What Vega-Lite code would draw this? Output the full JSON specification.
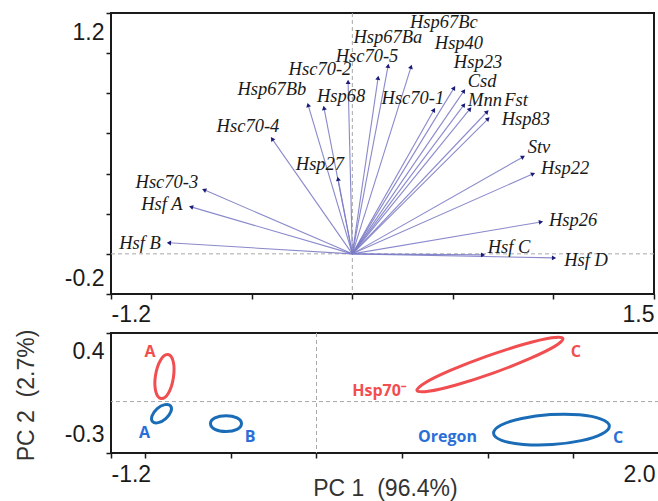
{
  "$schema": "https://vega.github.io/schema/vega-lite/v6.json",
  "background": "white",
  "padding": {"left": 14, "top": 11, "right": 0, "bottom": 0},
  "bounds": "flush",
  "spacing": 39,
  "config": {
    "view": {"stroke": "#1a1a1a", "strokeWidth": 2},
    "axis": {
      "grid": false, "domain": false,
      "tickColor": "#1a1a1a", "tickWidth": 1.5, "tickSize": 5,
      "labelFont": "Liberation Sans", "labelFontSize": 23, "labelColor": "#1a1a1a",
      "titleFont": "Liberation Sans", "titleFontSize": 23, "titleFontWeight": "normal", "titleColor": "#333333"
    }
  },
  "datasets": {
    "vectors": [
      {"name": "Hsp67Bc", "x": 0.292, "y": 0.932, "lx": 0.455, "ly": 1.153},
      {"name": "Hsp67Ba", "x": 0.178, "y": 0.937, "lx": 0.177, "ly": 1.081},
      {"name": "Hsc70-5", "x": 0.128, "y": 0.877, "lx": 0.073, "ly": 0.988},
      {"name": "Hsc70-2", "x": -0.021, "y": 0.857, "lx": -0.161, "ly": 0.922},
      {"name": "Hsp67Bb", "x": -0.220, "y": 0.742, "lx": -0.400, "ly": 0.822},
      {"name": "Hsp68", "x": -0.141, "y": 0.727, "lx": -0.056, "ly": 0.787},
      {"name": "Hsc70-4", "x": -0.399, "y": 0.573, "lx": -0.519, "ly": 0.638},
      {"name": "Hsp27", "x": -0.071, "y": 0.374, "lx": -0.161, "ly": 0.448},
      {"name": "Hsc70-3", "x": -0.737, "y": 0.319, "lx": -0.922, "ly": 0.356},
      {"name": "Hsf A", "x": -0.802, "y": 0.234, "lx": -0.947, "ly": 0.247},
      {"name": "Hsf B", "x": -0.912, "y": 0.055, "lx": -1.056, "ly": 0.055},
      {"name": "Hsc70-1", "x": 0.406, "y": 0.717, "lx": 0.301, "ly": 0.777},
      {"name": "Hsp40", "x": 0.506, "y": 0.827, "lx": 0.530, "ly": 1.050},
      {"name": "Hsp23", "x": 0.555, "y": 0.812, "lx": 0.625, "ly": 0.955},
      {"name": "Csd", "x": 0.555, "y": 0.742, "lx": 0.645, "ly": 0.862},
      {"name": "Mnn", "x": 0.585, "y": 0.722, "lx": 0.660, "ly": 0.769},
      {"name": "Fst", "x": 0.670, "y": 0.708, "lx": 0.814, "ly": 0.769},
      {"name": "Hsp83", "x": 0.675, "y": 0.673, "lx": 0.863, "ly": 0.673},
      {"name": "Stv", "x": 0.849, "y": 0.483, "lx": 0.928, "ly": 0.533},
      {"name": "Hsp22", "x": 0.899, "y": 0.399, "lx": 1.058, "ly": 0.429},
      {"name": "Hsp26", "x": 0.938, "y": 0.159, "lx": 1.098, "ly": 0.169},
      {"name": "Hsf C", "x": 0.650, "y": -0.005, "lx": 0.779, "ly": 0.035},
      {"name": "Hsf D", "x": 1.003, "y": -0.020, "lx": 1.162, "ly": -0.030}
    ],
    "ellipses": [
      {"e": "Hsp70- A", "line": "Hsp70-", "i": 0, "x": -0.867, "y": 0.274},
      {"e": "Hsp70- A", "line": "Hsp70-", "i": 1, "x": -0.836, "y": 0.231},
      {"e": "Hsp70- A", "line": "Hsp70-", "i": 2, "x": -0.836, "y": 0.138},
      {"e": "Hsp70- A", "line": "Hsp70-", "i": 3, "x": -0.865, "y": 0.049},
      {"e": "Hsp70- A", "line": "Hsp70-", "i": 4, "x": -0.908, "y": 0.018},
      {"e": "Hsp70- A", "line": "Hsp70-", "i": 5, "x": -0.939, "y": 0.061},
      {"e": "Hsp70- A", "line": "Hsp70-", "i": 6, "x": -0.940, "y": 0.154},
      {"e": "Hsp70- A", "line": "Hsp70-", "i": 7, "x": -0.910, "y": 0.243},
      {"e": "Oregon A", "line": "Oregon", "i": 0, "x": -0.853, "y": -0.024},
      {"e": "Oregon A", "line": "Oregon", "i": 1, "x": -0.850, "y": -0.058},
      {"e": "Oregon A", "line": "Oregon", "i": 2, "x": -0.880, "y": -0.099},
      {"e": "Oregon A", "line": "Oregon", "i": 3, "x": -0.924, "y": -0.123},
      {"e": "Oregon A", "line": "Oregon", "i": 4, "x": -0.958, "y": -0.116},
      {"e": "Oregon A", "line": "Oregon", "i": 5, "x": -0.960, "y": -0.083},
      {"e": "Oregon A", "line": "Oregon", "i": 6, "x": -0.930, "y": -0.041},
      {"e": "Oregon A", "line": "Oregon", "i": 7, "x": -0.886, "y": -0.018},
      {"e": "Oregon B", "line": "Oregon", "i": 0, "x": -0.438, "y": -0.128},
      {"e": "Oregon B", "line": "Oregon", "i": 1, "x": -0.464, "y": -0.095},
      {"e": "Oregon B", "line": "Oregon", "i": 2, "x": -0.528, "y": -0.082},
      {"e": "Oregon B", "line": "Oregon", "i": 3, "x": -0.593, "y": -0.095},
      {"e": "Oregon B", "line": "Oregon", "i": 4, "x": -0.619, "y": -0.128},
      {"e": "Oregon B", "line": "Oregon", "i": 5, "x": -0.593, "y": -0.162},
      {"e": "Oregon B", "line": "Oregon", "i": 6, "x": -0.528, "y": -0.175},
      {"e": "Oregon B", "line": "Oregon", "i": 7, "x": -0.464, "y": -0.162},
      {"e": "Hsp70- C", "line": "Hsp70-", "i": 0, "x": 1.439, "y": 0.368},
      {"e": "Hsp70- C", "line": "Hsp70-", "i": 1, "x": 1.391, "y": 0.322},
      {"e": "Hsp70- C", "line": "Hsp70-", "i": 2, "x": 1.241, "y": 0.249},
      {"e": "Hsp70- C", "line": "Hsp70-", "i": 3, "x": 1.031, "y": 0.166},
      {"e": "Hsp70- C", "line": "Hsp70-", "i": 4, "x": 0.815, "y": 0.097},
      {"e": "Hsp70- C", "line": "Hsp70-", "i": 5, "x": 0.653, "y": 0.060},
      {"e": "Hsp70- C", "line": "Hsp70-", "i": 6, "x": 0.587, "y": 0.064},
      {"e": "Hsp70- C", "line": "Hsp70-", "i": 7, "x": 0.635, "y": 0.110},
      {"e": "Hsp70- C", "line": "Hsp70-", "i": 8, "x": 0.785, "y": 0.183},
      {"e": "Hsp70- C", "line": "Hsp70-", "i": 9, "x": 0.996, "y": 0.265},
      {"e": "Hsp70- C", "line": "Hsp70-", "i": 10, "x": 1.211, "y": 0.334},
      {"e": "Hsp70- C", "line": "Hsp70-", "i": 11, "x": 1.373, "y": 0.372},
      {"e": "Oregon C", "line": "Oregon", "i": 0, "x": 1.710, "y": -0.142},
      {"e": "Oregon C", "line": "Oregon", "i": 1, "x": 1.667, "y": -0.188},
      {"e": "Oregon C", "line": "Oregon", "i": 2, "x": 1.546, "y": -0.228},
      {"e": "Oregon C", "line": "Oregon", "i": 3, "x": 1.377, "y": -0.251},
      {"e": "Oregon C", "line": "Oregon", "i": 4, "x": 1.208, "y": -0.250},
      {"e": "Oregon C", "line": "Oregon", "i": 5, "x": 1.081, "y": -0.226},
      {"e": "Oregon C", "line": "Oregon", "i": 6, "x": 1.034, "y": -0.185},
      {"e": "Oregon C", "line": "Oregon", "i": 7, "x": 1.076, "y": -0.138},
      {"e": "Oregon C", "line": "Oregon", "i": 8, "x": 1.198, "y": -0.099},
      {"e": "Oregon C", "line": "Oregon", "i": 9, "x": 1.366, "y": -0.076},
      {"e": "Oregon C", "line": "Oregon", "i": 10, "x": 1.536, "y": -0.077},
      {"e": "Oregon C", "line": "Oregon", "i": 11, "x": 1.662, "y": -0.102}
    ],
    "groupLabels": [
      {"text": "A", "line": "Hsp70-", "x": -0.972, "y": 0.292},
      {"text": "A", "line": "Oregon", "x": -1.004, "y": -0.184},
      {"text": "B", "line": "Oregon", "x": -0.388, "y": -0.204},
      {"text": "C", "line": "Hsp70-", "x": 1.515, "y": 0.292},
      {"text": "Hsp70⁻", "line": "Hsp70-", "x": 0.365, "y": 0.064},
      {"text": "Oregon", "line": "Oregon", "x": 0.765, "y": -0.207},
      {"text": "C", "line": "Oregon", "x": 1.761, "y": -0.210}
    ]
  },
  "vconcat": [
    {
      "width": 543,
      "height": 281,
      "layer": [
        {
          "data": {"values": [{}]},
          "mark": {"type": "rule", "stroke": "#a8a8a8", "strokeDash": [4, 3], "strokeWidth": 1},
          "encoding": {
            "x": {"datum": 0, "type": "quantitative",
              "scale": {"domain": [-1.2, 1.5], "nice": false, "zero": false},
              "axis": {"title": null, "values": [-1.2, -1, -0.5, 0, 0.5, 1, 1.5],
                "labelExpr": "datum.value == -1.2 ? '-1.2' : (datum.value == 1.5 ? '1.5' : '')",
                "labelFlush": true, "labelPadding": 4}}
          }
        },
        {
          "data": {"values": [{}]},
          "mark": {"type": "rule", "stroke": "#a8a8a8", "strokeDash": [4, 3], "strokeWidth": 1},
          "encoding": {
            "y": {"datum": 0, "type": "quantitative",
              "scale": {"domain": [-0.2, 1.2], "nice": false, "zero": false},
              "axis": {"title": null, "values": [-0.2, 0, 0.2, 0.4, 0.6, 0.8, 1.0, 1.2],
                "labelExpr": "datum.value == 1.2 ? '1.2' : (datum.value == -0.2 ? '-0.2' : '')",
                "labelFlush": true, "labelPadding": 2,
                "labelOffset": {"condition": {"test": "datum.value > 0.5", "value": 8}, "value": -4}}}
          }
        },
        {
          "data": {"name": "vectors"},
          "mark": {"type": "rule", "stroke": "#7c7cc6", "strokeWidth": 1.1, "opacity": 0.9},
          "encoding": {
            "x": {"field": "x", "type": "quantitative"},
            "y": {"field": "y", "type": "quantitative"},
            "x2": {"datum": 0},
            "y2": {"datum": 0}
          }
        },
        {
          "data": {"name": "vectors"},
          "mark": {"type": "point", "shape": "triangle-up", "filled": true, "size": 24,
            "color": "#1c1c78", "opacity": 1,
            "angle": {"expr": "atan2(datum.x, datum.y) * 180 / PI"}},
          "encoding": {
            "x": {"field": "x", "type": "quantitative"},
            "y": {"field": "y", "type": "quantitative"}
          }
        },
        {
          "data": {"name": "vectors"},
          "mark": {"type": "text", "font": "Liberation Serif", "fontStyle": "italic",
            "fontSize": 18.5, "color": "#1a1a1a", "align": "center", "baseline": "middle"},
          "encoding": {
            "x": {"field": "lx", "type": "quantitative"},
            "y": {"field": "ly", "type": "quantitative"},
            "text": {"field": "name", "type": "nominal"}
          }
        }
      ]
    },
    {
      "width": 548,
      "height": 120,
      "layer": [
        {
          "data": {"values": [{}]},
          "mark": {"type": "rule", "stroke": "#a8a8a8", "strokeDash": [4, 3], "strokeWidth": 1},
          "encoding": {
            "x": {"datum": 0, "type": "quantitative",
              "scale": {"domain": [-1.2, 2.0], "nice": false, "zero": false},
              "axis": {"title": "PC 1\u00a0\u00a0(96.4%)", "values": [-1.2, -1, -0.5, 0, 0.5, 1, 1.5, 2],
                "labelExpr": "datum.value == -1.2 ? '-1.2' : (datum.value == 2 ? '2.0' : '')",
                "labelFlush": true, "labelPadding": 5,
                "labelOffset": {"condition": {"test": "datum.value > 1.9", "value": -4}, "value": 0},
                "titleY": 42, "titleBaseline": "alphabetic"}}
          }
        },
        {
          "data": {"values": [{}]},
          "mark": {"type": "rule", "stroke": "#a8a8a8", "strokeDash": [4, 3], "strokeWidth": 1},
          "encoding": {
            "y": {"datum": 0, "type": "quantitative",
              "scale": {"domain": [-0.3, 0.4], "nice": false, "zero": false},
              "axis": {"title": "PC 2\u00a0\u00a0(2.7%)", "values": [-0.3, -0.2, -0.1, 0, 0.1, 0.2, 0.3, 0.4],
                "labelExpr": "datum.value == 0.4 ? '0.4' : (datum.value == -0.3 ? '-0.3' : '')",
                "labelFlush": true, "labelPadding": 2,
                "labelOffset": {"condition": {"test": "datum.value > 0.35", "value": 7}, "value": -7},
                "titleX": -85, "titleY": 62, "titleAngle": -90, "titleAlign": "center", "titleBaseline": "middle"}}
          }
        },
        {
          "data": {"name": "ellipses"},
          "mark": {"type": "line", "interpolate": "cardinal-closed", "strokeWidth": 3},
          "encoding": {
            "x": {"field": "x", "type": "quantitative"},
            "y": {"field": "y", "type": "quantitative"},
            "detail": {"field": "e", "type": "nominal"},
            "order": {"field": "i", "type": "quantitative"},
            "color": {"field": "line", "type": "nominal",
              "scale": {"domain": ["Hsp70-", "Oregon"], "range": ["#f04e50", "#1a6cb6"]}, "legend": null}
          }
        },
        {
          "data": {"name": "groupLabels"},
          "mark": {"type": "text", "font": "Open Sans", "fontWeight": "bold", "fontSize": 16,
            "align": "center", "baseline": "middle"},
          "encoding": {
            "x": {"field": "x", "type": "quantitative"},
            "y": {"field": "y", "type": "quantitative"},
            "text": {"field": "text", "type": "nominal"},
            "fill": {"field": "line", "type": "nominal",
              "scale": {"domain": ["Hsp70-", "Oregon"], "range": ["#f24d4f", "#2a6fd8"]}, "legend": null}
          }
        }
      ]
    }
  ]
}
